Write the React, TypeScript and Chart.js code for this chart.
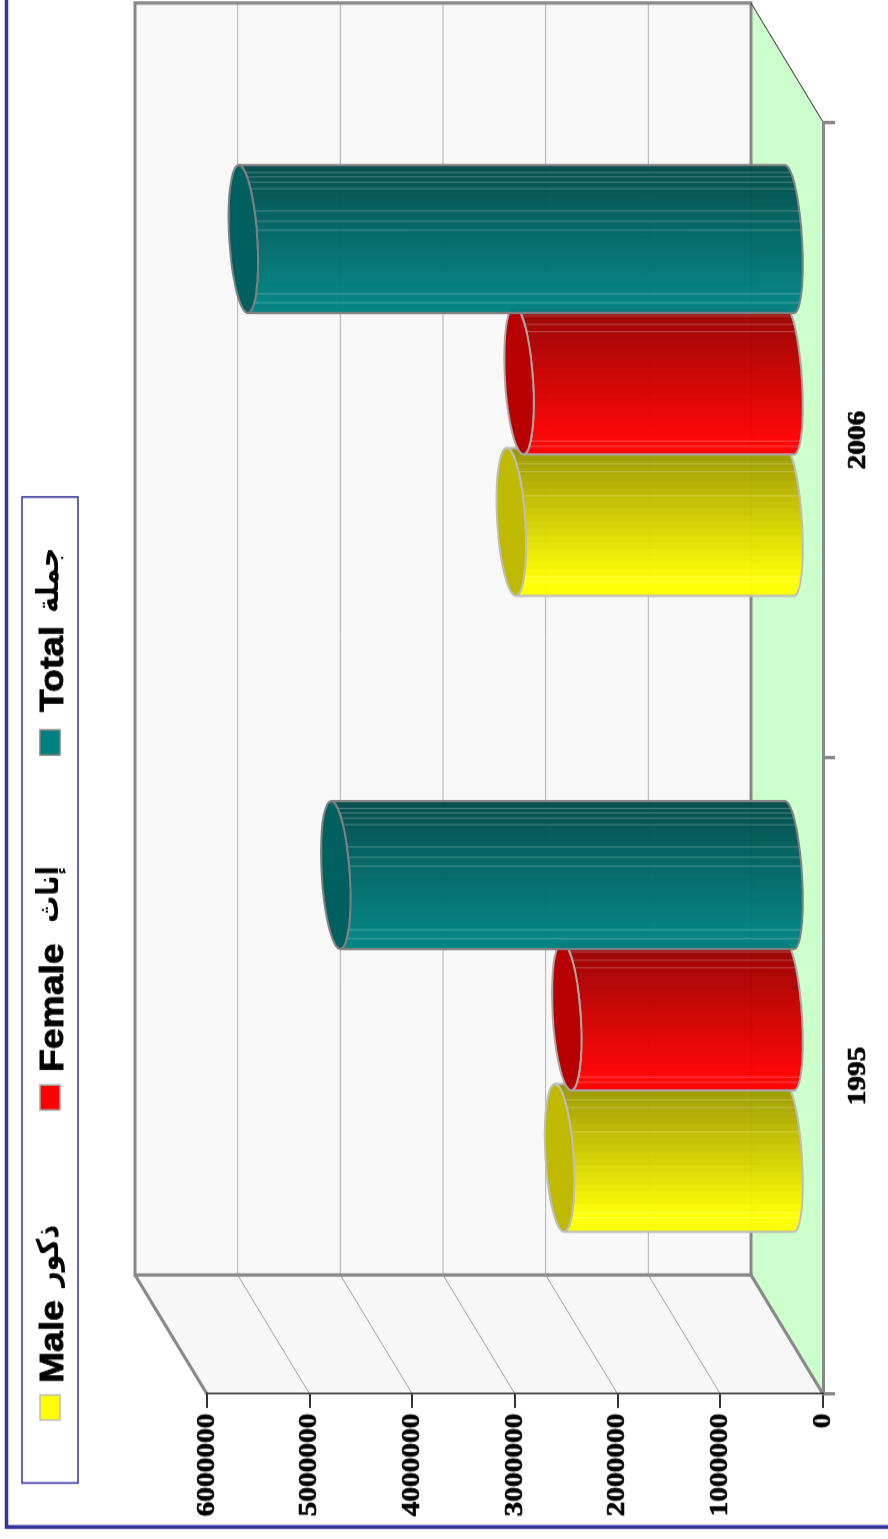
import React, { useEffect, useRef } from "react";
import { Chart, registerables } from "chart.js";

Chart.register(...registerables);

// ---- data ----
const categories = ["1995", "2006"];
const seriesNames = ["Male ذكور", "Female إناث", "Total جملة"];
const maleValues = [2250000, 2720000];
const femaleValues = [2180000, 2645000];
const totalValues = [4430000, 5330000];
const valueMax = 6000000;
const valueStep = 1000000;

// ---- style ----
const swatchColors = ["#ffff00", "#ff0000", "#008080"];
const bandLight = [[255, 255, 0], [255, 0, 0], [0, 128, 128]];
const bandDark = [[155, 150, 0], [150, 0, 0], [0, 75, 75]];
const capColors = ["#bfba00", "#b80000", "#006060"];
const edgeColors = ["#bdbdbd", "#a8a8a8", "#808080"];
const seamFractions = [
  [0.108, 0.16, 0.324, 0.87, 0.905],
  [0.065, 0.12, 0.17, 0.91, 0.945],
  [0.05, 0.08, 0.115, 0.16, 0.31, 0.38, 0.44, 0.87, 0.93],
];

// ---- layout: u runs along the long side of the page, from its bottom edge; v from its left edge ----
const PAGE_W = 888;
const PAGE_H = 1539;
const SX = 1.13; // the original's text and drawing are stretched along the long side
const W = Math.round(PAGE_H / SX);
const H = PAGE_W;
const u = (n: number) => n / SX;
const LEFT = u(145);
const RIGHT = u(1417);
const TOP = 207;
const BOTTOM = 823;
const WALL_DU = u(119);
const WALL_DV = 72;
const BAR_DU = u(59.5);
const BAR_DV = 32.5;
const CAP_R = 14;
const BASE_R = 12.5;
const CAP_TILT = 4.5;
const GREY = "#888888";
const BLUE = "#333399";

const legendSwatchU = [119, 429, 784];
const legendLatinU = [156, 467, 827];
const legendArabicU = [252, 616, 926];

const framePlugin = {
  id: "frame3d",
  beforeDraw(chart: any) {
    const { ctx, chartArea } = chart;
    const l = chartArea.left, r = chartArea.right, b = chartArea.bottom;
    const yScale = chart.scales.y;
    const bu = l + WALL_DU, bru = r + WALL_DU, bv = b - WALL_DV;
    const tv = chartArea.top - WALL_DV;
    ctx.save();

    // outer frame
    ctx.strokeStyle = BLUE;
    ctx.lineWidth = 3.5;
    ctx.beginPath();
    ctx.moveTo(u(12), 900);
    ctx.lineTo(u(12), 6.5);
    ctx.lineTo(W + 5, 6.5);
    ctx.stroke();

    // floor
    ctx.fillStyle = "#ccffcc";
    ctx.beginPath();
    ctx.moveTo(l, b); ctx.lineTo(r, b); ctx.lineTo(bru, bv); ctx.lineTo(bu, bv);
    ctx.closePath();
    ctx.fill();

    // side wall
    ctx.fillStyle = "#f7f7f7";
    ctx.beginPath();
    ctx.moveTo(l, chartArea.top); ctx.lineTo(l, b); ctx.lineTo(bu, bv); ctx.lineTo(bu, tv);
    ctx.closePath();
    ctx.fill();

    // back wall
    ctx.fillStyle = "#f8f8f8";
    ctx.fillRect(bu, tv, bru - bu, bv - tv);

    // grid lines from the value scale
    ctx.lineWidth = 1;
    yScale.ticks.forEach((t: any) => {
      const y = yScale.getPixelForValue(t.value);
      if (t.value === 0 || t.value === valueMax) return;
      ctx.strokeStyle = "#a0a0a0";
      ctx.beginPath();
      ctx.moveTo(l, y); ctx.lineTo(bu, y - WALL_DV);
      ctx.stroke();
      ctx.strokeStyle = "#b0b0b0";
      ctx.beginPath();
      ctx.moveTo(bu, y - WALL_DV); ctx.lineTo(bru, y - WALL_DV);
      ctx.stroke();
    });

    // wall edges
    ctx.strokeStyle = GREY;
    ctx.lineWidth = 3;
    ctx.strokeRect(bu, tv, bru - bu, bv - tv);
    ctx.beginPath();
    ctx.moveTo(l, chartArea.top); ctx.lineTo(bu, tv);
    ctx.moveTo(l, b); ctx.lineTo(bu, bv);
    ctx.stroke();
    ctx.strokeStyle = "#222222";
    ctx.lineWidth = 1;
    ctx.beginPath();
    ctx.moveTo(r, b); ctx.lineTo(bru, bv);
    ctx.stroke();

    // legend
    ctx.strokeStyle = BLUE;
    ctx.lineWidth = 1.5;
    ctx.strokeRect(u(56), 22, u(986), 56);
    ctx.textAlign = "left";
    ctx.textBaseline = "alphabetic";
    chart.data.datasets.forEach((ds: any, i: number) => {
      const sp = ds.label.indexOf(" ");
      ctx.fillStyle = swatchColors[i];
      ctx.fillRect(u(legendSwatchU[i]), 40, u(25), 20);
      ctx.strokeStyle = edgeColors[i];
      ctx.lineWidth = 1.5;
      ctx.strokeRect(u(legendSwatchU[i]), 40, u(25), 20);
      ctx.fillStyle = "#000000";
      ctx.strokeStyle = "#000000";
      ctx.lineWidth = 0.8;
      ctx.font = 'bold 33px "Liberation Sans"';
      const latin = ds.label.slice(0, sp);
      ctx.fillText(latin, u(legendLatinU[i]), 63);
      ctx.strokeText(latin, u(legendLatinU[i]), 63);
      ctx.font = 'bold 24px "DejaVu Sans"';
      ctx.save();
      ctx.translate(u(legendArabicU[i]), 58);
      ctx.scale(1, 1.25);
      ctx.fillText(ds.label.slice(sp + 1), 0, 0);
      ctx.restore();
    });
    ctx.restore();
  },
};

const cylinderPlugin = {
  id: "cylinders",
  // painted in dataset order: red overlaps yellow, teal overlaps red
  afterDatasetsDraw(chart: any) {
    const { ctx } = chart;
    chart.data.datasets.forEach((_ds: any, i: number) => {
      const meta = chart.getDatasetMeta(i);
      const light = bandLight[i];
      const dark = bandDark[i];
      meta.data.forEach((bar: any) => {
        const cx = bar.x + BAR_DU;
        const half = bar.width / 2;
        const top = bar.y - BAR_DV;
        const base = bar.base - BAR_DV;

        const pt = (c: number, r: number, t: number): [number, number] => [
          cx + Math.cos(t) * half,
          c - Math.cos(t) * CAP_TILT + Math.sin(t) * r,
        ];
        const arc = (c: number, r: number, a: number, b: number) => {
          const n = 40;
          for (let k = 0; k <= n; k++) {
            const p = pt(c, r, a + ((b - a) * k) / n);
            ctx.lineTo(p[0], p[1]);
          }
        };

        const body = () => {
          ctx.beginPath();
          const s = pt(top, CAP_R, 0);
          ctx.moveTo(s[0], s[1]);
          arc(base, BASE_R, 0, Math.PI);
          arc(top, CAP_R, Math.PI, 0);
          ctx.closePath();
        };

        // stepped gradient across the bar
        const grad = ctx.createLinearGradient(cx - half, 0, cx + half, 0);
        const bands = 22;
        for (let k = 0; k < bands; k++) {
          const f = Math.max(0, (k - 2) / (bands - 3));
          const col = `rgb(${light.map((c, j) => Math.round(c + (dark[j] - c) * f)).join(",")})`;
          grad.addColorStop(k / bands, col);
          grad.addColorStop((k + 1) / bands, col);
        }

        ctx.save();
        ctx.globalAlpha = 0.97;
        body();
        ctx.fillStyle = grad;
        ctx.fill();
        ctx.globalAlpha = 1;

        // seams between bands
        ctx.save();
        body();
        ctx.clip();
        ctx.strokeStyle = "rgba(255,255,255,0.26)";
        ctx.lineWidth = 1;
        seamFractions[i].forEach((fr) => {
          const su = cx + half - fr * bar.width;
          ctx.beginPath();
          ctx.moveTo(su, top - 20);
          ctx.lineTo(su, base + 20);
          ctx.stroke();
        });
        ctx.restore();

        body();
        ctx.strokeStyle = edgeColors[i];
        ctx.lineWidth = 2;
        ctx.stroke();

        // cap
        ctx.beginPath();
        const s = pt(top, CAP_R, 0);
        ctx.moveTo(s[0], s[1]);
        arc(top, CAP_R, 0, Math.PI * 2);
        ctx.closePath();
        ctx.fillStyle = capColors[i];
        ctx.fill();
        ctx.stroke();
        ctx.restore();
      });
    });
  },
};

export default function App() {
  const ref = useRef<HTMLCanvasElement | null>(null);

  useEffect(() => {
    if (!ref.current) return;
    const tickFont = { family: "'Liberation Serif', serif", size: 26, weight: "bold" as const };
    const chart = new Chart(ref.current, {
      type: "bar",
      data: {
        labels: categories,
        datasets: [
          { label: seriesNames[0], data: maleValues, backgroundColor: "transparent" },
          { label: seriesNames[1], data: femaleValues, backgroundColor: "transparent" },
          { label: seriesNames[2], data: totalValues, backgroundColor: "transparent" },
        ],
      },
      options: {
        responsive: false,
        animation: false,
        devicePixelRatio: 1,
        categoryPercentage: 0.667,
        barPercentage: 1.046,
        layout: {
          autoPadding: false,
          padding: { top: TOP, bottom: 0, left: 0, right: W - RIGHT },
        },
        plugins: { legend: { display: false }, tooltip: { enabled: false }, title: { display: false } },
        scales: {
          x: {
            afterFit: (s: any) => { s.height = H - BOTTOM; },
            grid: { drawOnChartArea: false, drawTicks: true, tickLength: 12, color: GREY, lineWidth: 3 },
            border: { color: GREY, width: 3 },
            ticks: {
              color: "#000000",
              font: tickFont,
              padding: 8,
              maxRotation: 0,
              autoSkip: false,
              textStrokeColor: "#000000",
              textStrokeWidth: 0.7,
            },
          },
          y: {
            min: 0,
            max: valueMax,
            afterFit: (s: any) => { s.width = LEFT; },
            grid: {
              drawOnChartArea: false,
              drawTicks: true,
              tickLength: 12.4,
              color: "#333333",
              tickColor: "#333333",
              tickWidth: 2,
              lineWidth: 2,
            },
            border: { color: "#333333", width: 1.5 },
            ticks: {
              color: "#000000",
              font: tickFont,
              padding: 5,
              stepSize: valueStep,
              textStrokeColor: "#000000",
              textStrokeWidth: 0.7,
              callback: (v: any) => String(v),
            },
          },
        },
      } as any,
      plugins: [framePlugin, cylinderPlugin],
    });
    return () => chart.destroy();
  }, []);

  return (
    <div
      style={{
        position: "fixed",
        left: 0,
        top: 0,
        width: W,
        height: H,
        transformOrigin: "0 0",
        transform: `translate(0px, ${PAGE_H}px) rotate(-90deg) scale(${SX}, 1)`,
      }}
    >
      <canvas ref={ref} width={W} height={H} style={{ display: "block" }} />
    </div>
  );
}
